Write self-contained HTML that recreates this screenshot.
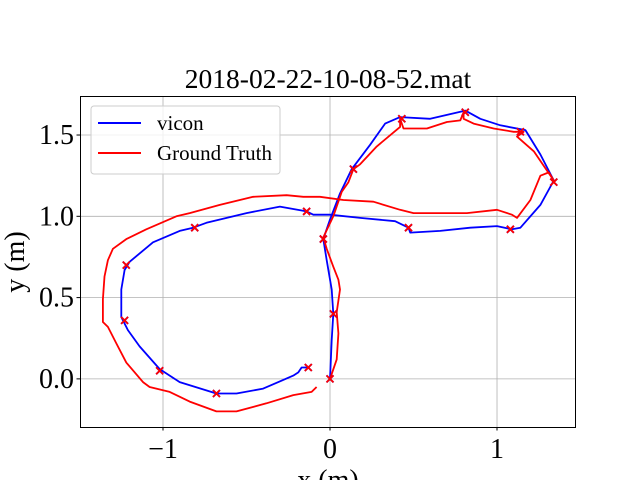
<!DOCTYPE html>
<html><head><meta charset="utf-8"><style>
body{margin:0;background:#fff;}
svg text{font-family:"Liberation Serif",serif;fill:#000;}
</style></head><body>
<svg id="chart" width="640" height="480" viewBox="0 0 640 480">
<rect x="0" y="0" width="640" height="480" fill="#fff"/>
<g id="grid"></g>
<g id="plot"></g>
<rect x="80.5" y="96.5" width="495" height="331" fill="none" stroke="#000" stroke-width="1"/>
<g id="ticks"></g>
<text x="328" y="88" font-size="27.5" text-anchor="middle">2018-02-22-10-08-52.mat</text>
<text x="0" y="0" font-size="28" text-anchor="middle" transform="translate(24,262) rotate(-90)">y (m)</text>
<text x="328" y="489" font-size="28" text-anchor="middle">x (m)</text>
<g>
<rect x="91" y="106" width="189" height="68" rx="3" fill="#fff" fill-opacity="0.8" stroke="#ccc"/>
<line x1="98" y1="123" x2="141" y2="123" stroke="#0000ff" stroke-width="2"/>
<text x="157" y="130" font-size="21">vicon</text>
<line x1="98" y1="153" x2="141" y2="153" stroke="#ff0000" stroke-width="2"/>
<text x="157" y="160" font-size="21">Ground Truth</text>
</g>
</svg>
<script>
const viconX=[0,0.01,0.02,0.01,-0.02,-0.04,0,0.06,0.13,0.24,0.33,0.42,0.60,0.81,0.90,1.02,1.17,1.26,1.34,1.26,1.14,1.09,1.00,0.84,0.66,0.48,0.47,0.39,0.18,0,-0.10,-0.14,-0.30,-0.50,-0.74,-0.82,-0.90,-1.06,-1.20,-1.23,-1.25,-1.25,-1.21,-1.14,-1.02,-0.90,-0.68,-0.56,-0.40,-0.22,-0.19,-0.17,-0.13];
const viconY=[0,0.24,0.40,0.55,0.73,0.86,0.98,1.14,1.29,1.44,1.57,1.61,1.60,1.65,1.60,1.56,1.53,1.38,1.22,1.07,0.93,0.92,0.94,0.93,0.91,0.90,0.93,0.97,0.99,1.01,1.01,1.03,1.06,1.02,0.96,0.93,0.91,0.84,0.72,0.67,0.55,0.38,0.30,0.20,0.06,-0.02,-0.09,-0.09,-0.06,0.02,0.04,0.07,0.07];
const truthX=[0,0.04,0.05,0.04,0.06,0.05,0.02,-0.02,-0.04,0.02,0.07,0.11,0.14,0.18,0.28,0.42,0.42,0.44,0.58,0.70,0.78,0.80,0.80,0.86,0.98,1.10,1.16,1.12,1.22,1.30,1.34,1.31,1.26,1.20,1.12,1.09,1.00,0.82,0.62,0.50,0.42,0.26,0.08,-0.06,-0.16,-0.26,-0.46,-0.66,-0.84,-0.92,-1.10,-1.22,-1.30,-1.33,-1.35,-1.36,-1.36,-1.33,-1.28,-1.22,-1.12,-1.08,-0.96,-0.84,-0.68,-0.56,-0.38,-0.22,-0.11,-0.08];
const truthY=[0,0.12,0.28,0.41,0.55,0.61,0.69,0.80,0.87,1.00,1.15,1.21,1.29,1.32,1.43,1.55,1.60,1.54,1.54,1.58,1.59,1.64,1.60,1.57,1.54,1.52,1.52,1.49,1.40,1.28,1.22,1.27,1.25,1.10,0.99,1.01,1.04,1.02,1.02,1.02,1.04,1.09,1.10,1.12,1.12,1.13,1.12,1.07,1.02,1.00,0.92,0.86,0.80,0.73,0.63,0.49,0.35,0.32,0.22,0.10,-0.02,-0.05,-0.08,-0.14,-0.20,-0.20,-0.15,-0.10,-0.08,-0.05];
const markerX=[0,0.02,-0.04,0.14,0.43,0.81,1.14,1.34,1.08,0.47,-0.14,-0.81,-1.22,-1.23,-1.02,-0.68,-0.13];
const markerY=[0,0.40,0.86,1.29,1.60,1.64,1.52,1.21,0.92,0.93,1.03,0.93,0.70,0.36,0.05,-0.09,0.07];
const xTicks=[-1,0,1];
const xTickLabels=["\u22121","0","1"];
const yTicks=[0,0.5,1.0,1.5];
const yTickLabels=["0.0","0.5","1.0","1.5"];

const NS="http://www.w3.org/2000/svg";
const L=80,R=575,T=96,B=427;
const xMin=-1.497,xMax=1.467,yMin=-0.296,yMax=1.74;
function sx(v){return L+(v-xMin)/(xMax-xMin)*(R-L);}
function sy(v){return B-(v-yMin)/(yMax-yMin)*(B-T);}
function mk(tag,attrs,parent){const e=document.createElementNS(NS,tag);for(const k in attrs)e.setAttribute(k,attrs[k]);parent.appendChild(e);return e;}
const grid=document.getElementById('grid'),plot=document.getElementById('plot'),ticks=document.getElementById('ticks');
xTicks.forEach((t,i)=>{
  const x=sx(t);
  const g=mk('line',{x1:x,y1:T,x2:x,y2:B,stroke:'#b0b0b0','stroke-width':0.8},grid);
  
  
  const tk=mk('line',{x1:x,y1:B,x2:x,y2:B+3.5,stroke:'#000'},ticks);
  
  
  const tx=mk('text',{x:x,y:B+31,'font-size':28,'text-anchor':'middle'},ticks);
  tx.textContent=xTickLabels[i];
  
  
});
yTicks.forEach((t,i)=>{
  const y=sy(t);
  const g=mk('line',{x1:L,y1:y,x2:R,y2:y,stroke:'#b0b0b0','stroke-width':0.8},grid);
  
  
  const tk=mk('line',{x1:L-3.5,y1:y,x2:L,y2:y,stroke:'#000'},ticks);
  
  
  const tx=mk('text',{x:L-6,y:y+9,'font-size':28,'text-anchor':'end'},ticks);
  tx.textContent=yTickLabels[i];
  
  
});
function line(xs,ys,color,name){
  const d=xs.map((v,i)=>(i?'L':'M')+sx(v).toFixed(1)+','+sy(ys[i]).toFixed(1)).join('');
  const p=mk('path',{d:d,fill:'none',stroke:color,'stroke-width':1.8,'stroke-linejoin':'round'},plot);
  
  
}
line(viconX,viconY,'#0000ff','vicon-line');
line(truthX,truthY,'#ff0000','ground-truth-line');
function marks(color,name){
  markerX.forEach((v,i)=>{
    const x=sx(v),y=sy(markerY[i]),s=3.5;
    const p=mk('path',{d:`M${x-s},${y-s}L${x+s},${y+s}M${x-s},${y+s}L${x+s},${y-s}`,stroke:color,'stroke-width':1.8},plot);
    
    
  });
}
marks('#0000ff','vicon-marker');
marks('#ff0000','ground-truth-marker');
</script>
</body></html>
